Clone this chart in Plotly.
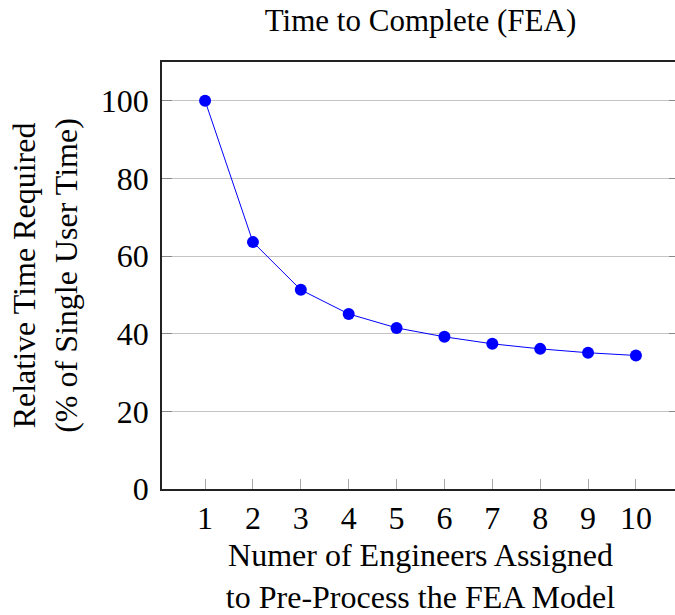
import plotly.graph_objects as go

engineers = [1, 2, 3, 4, 5, 6, 7, 8, 9, 10]
relative_time = [100, 63.6, 51.3, 45.1, 41.5, 39.2, 37.4, 36.1, 35.1, 34.4]
x_ticks = [1, 2, 3, 4, 5, 6, 7, 8, 9, 10]
y_ticks = [0, 20, 40, 60, 80, 100]

FONT = "Liberation Serif, Times New Roman, DejaVu Serif, serif"

fig = go.Figure()
fig.add_trace(go.Scatter(
    x=engineers, y=relative_time, mode="lines+markers",
    line=dict(color="#0000ff", width=1),
    marker=dict(color="#0000ff", size=12),
    showlegend=False,
))

fig.update_layout(
    width=681, height=615,
    margin=dict(l=162, r=0, t=62, b=122),
    paper_bgcolor="white", plot_bgcolor="white",
    font=dict(family=FONT, color="black"),
    title=dict(text="Time to Complete (FEA)", x=0.5, xanchor="center",
               xref="paper", yref="container", y=1 - 20 / 615, yanchor="middle",
               font=dict(family=FONT, size=31, color="black")),
    xaxis=dict(
        range=[0.1, 10.9], tickvals=x_ticks, ticks="inside", ticklen=10,
        tickcolor="#aaaaaa", tickwidth=1, showgrid=False, zeroline=False,
        showline=True, linecolor="#222222", linewidth=1.5, mirror=True,
        tickfont=dict(family=FONT, size=32), ticklabelstandoff=0,
        title=dict(text="Numer of Engineers Assigned<br>to Pre-Process the FEA Model",
                   font=dict(family=FONT, size=32), standoff=15),
    ),
    yaxis=dict(
        range=[0, 110], tickvals=y_ticks, ticks="inside", ticklen=10,
        tickcolor="#888888", tickwidth=1, showgrid=True, gridcolor="#c4c4c4",
        gridwidth=1, zeroline=False,
        showline=True, linecolor="#222222", linewidth=1.5, mirror="ticks",
        tickfont=dict(family=FONT, size=32), ticklabelstandoff=5,
        title=dict(text="Relative Time Required<br>(% of Single User Time)",
                   font=dict(family=FONT, size=32), standoff=14),
    ),
)

fig.write_html(
    "out.html",
    config={"displayModeBar": False},
    post_script="document.body.style.margin='0';document.body.style.overflow='hidden';",
)
